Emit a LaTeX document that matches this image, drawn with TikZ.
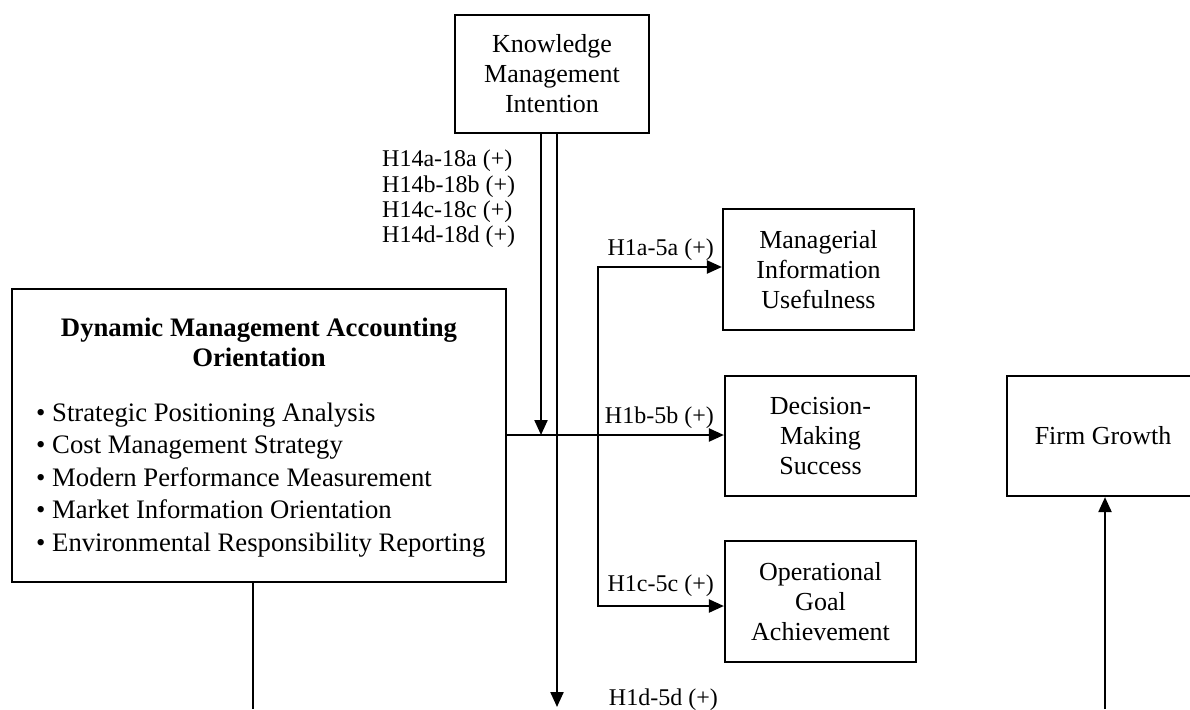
\documentclass[tikz,border=0pt]{standalone}
\usepackage{fontspec}
\setmainfont{Liberation Serif}
\usetikzlibrary{arrows.meta}

\tikzset{
  box/.style={draw, line width=2.2pt, inner sep=0pt, align=center,
              font=\fontsize{26}{30}\selectfont},
  lbl/.style={inner sep=0pt, font=\fontsize{24}{25.3}\selectfont},
  link/.style={line width=2.2pt},
  arr/.style={link, -{Triangle[length=15pt,width=13pt]}}
}

\begin{document}
\begin{tikzpicture}[x=1pt, y=-1pt, line join=miter]
  \useasboundingbox (0,0) rectangle (1190,709);
  \clip (0,0) rectangle (1190,709);

  % construct boxes
  \node[box, minimum width=194pt, minimum height=118pt] (kmi) at (552,74)
    {Knowledge\\Management\\Intention};
  \node[box, minimum width=494pt, minimum height=293pt] (dmao) at (259,435.5) {};
  \node[box, minimum width=191pt, minimum height=121pt] (miu) at (818.5,269.5)
    {Managerial\\Information\\Usefulness};
  \node[box, minimum width=191pt, minimum height=120pt] (dms) at (820.5,436)
    {Decision-\\Making\\Success};
  \node[box, minimum width=191pt, minimum height=121pt] (oga) at (820.5,601.5)
    {Operational\\Goal\\Achievement};
  \node[box, minimum width=192pt, minimum height=120pt] (fg) at (1103,436)
    {Firm Growth};

  % contents of the orientation box
  \node[inner sep=0pt, align=center, font=\fontsize{26.7}{30}\selectfont\bfseries]
    (dmaotitle) at (259,342) {Dynamic Management Accounting\\Orientation};
  \node[inner sep=0pt, align=left, anchor=west, font=\fontsize{26.7}{32.4}\selectfont]
    (dmaolist) at (36,480)
    {• Strategic Positioning Analysis\\
     • Cost Management Strategy\\
     • Modern Performance Measurement\\
     • Market Information Orientation\\
     • Environmental Responsibility Reporting};

  % junction and free ends
  \coordinate (mod) at (541,435);
  \coordinate (br) at (598,435);
  \coordinate (kout) at (557,707);
  \coordinate (dbot) at (253,709);
  \coordinate (fbot) at (1105,709);

  % connectors
  \draw[arr] (dmao.east |- mod) -- (dms.west |- mod);
  \draw[arr] (kmi.south -| mod) -- (mod);
  \draw[arr] (kmi.south -| kout) -- (kout);
  \draw[arr] (br) |- ([yshift=2.5pt]miu.west);
  \draw[arr] (br) |- ([yshift=-4.5pt]oga.west);
  \draw[link] (dmao.south -| dbot) -- (dbot);
  \draw[arr] (fbot) -- (fg.south -| fbot);

  % hypothesis labels
  \node[lbl, anchor=west, align=left] (h14) at (382,199)
    {H14a-18a (+)\\H14b-18b (+)\\H14c-18c (+)\\H14d-18d (+)};
  \node[lbl, anchor=base east] (h1a) at (714,255) {H1a-5a (+)};
  \node[lbl, anchor=base east] (h1b) at (714,423) {H1b-5b (+)};
  \node[lbl, anchor=base east] (h1c) at (714,591) {H1c-5c (+)};
  \node[lbl, anchor=base east] (h1d) at (718,705) {H1d-5d (+)};
\end{tikzpicture}
\end{document}
